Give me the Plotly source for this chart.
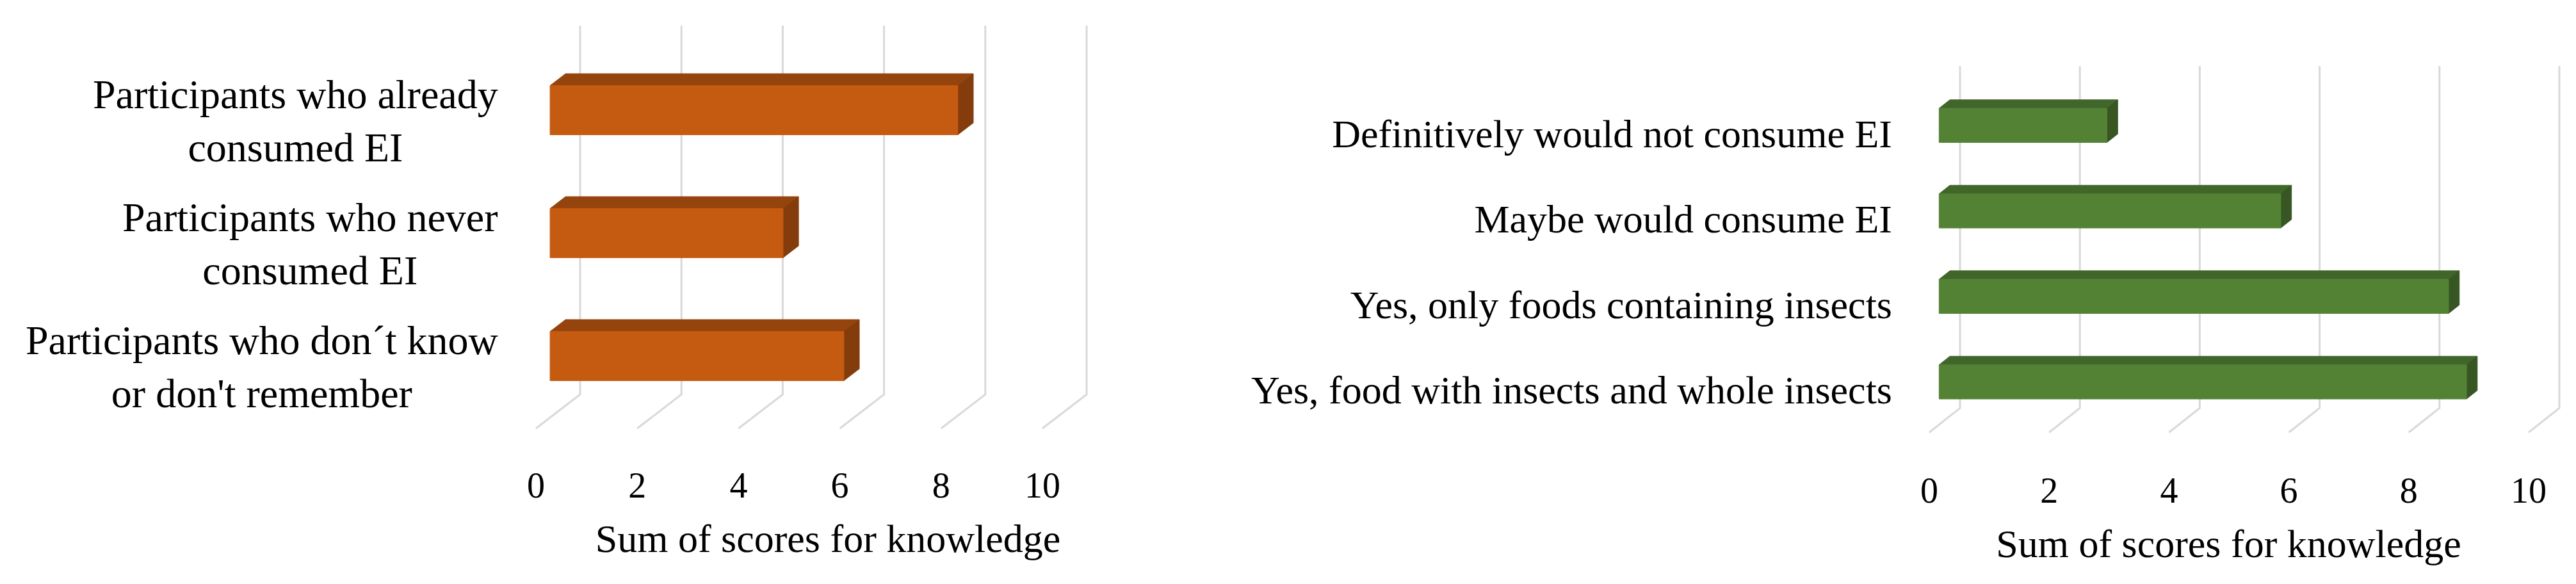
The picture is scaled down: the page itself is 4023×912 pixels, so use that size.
import plotly.graph_objects as go

# ---------------- data ----------------
left_categories = [
    "Participants who already<br>consumed EI",
    "Participants who never<br>consumed EI",
    "Participants who don´t know<br>or don't remember",
]
left_values = [8.05, 4.6, 5.8]

right_categories = [
    "Definitively would not consume EI",
    "Maybe would consume EI",
    "Yes, only foods containing insects",
    "Yes, food with insects and whole insects",
]
right_values = [2.8, 5.7, 8.5, 8.8]

x_ticks = [0, 2, 4, 6, 8, 10]
axis_title = "Sum of scores for knowledge"

# ---------------- styling / geometry ----------------
W, H = 4023, 912
FONT = "Liberation Serif"
GRID = "#D9D9D9"

panels = [
    dict(cats=left_categories, vals=left_values,
         front="#C55A11", top="#96440E", side="#843C0C",
         x0px=829, sx=79.1, y0px=181, sy=192.0, Dx=69, Dy=53,
         dom_x=(790, 1780), dom_y=(20, 712), cat_font=64, standoff=18,
         label_right=772, centered_labels=True),
    dict(cats=right_categories, vals=right_values,
         front="#548235", top="#41662A", side="#375623",
         x0px=3005, sx=93.6, y0px=200, sy=133.5, Dx=48, Dy=38,
         dom_x=(2950, 3995), dom_y=(20, 720), cat_font=62, standoff=2,
         label_right=2949, centered_labels=False),
]

F1, F2 = 0.32, 0.67   # depth fraction of bar front / back face
BAR_H = 0.40          # bar thickness in category units

fig = go.Figure()
annotations = []

for k, p in enumerate(panels):
    xa = "x" if k == 0 else "x2"
    ya = "y" if k == 0 else "y2"
    n = len(p["cats"])
    dX = p["Dx"] / p["sx"]          # depth in value units
    dY = -p["Dy"] / p["sy"]         # depth in category units (up)

    # gridlines: back wall vertical + floor diagonal
    for t in x_ticks:
        fig.add_trace(go.Scatter(
            x=[t + dX, t + dX, t],
            y=[-0.5 + dY, n - 0.5 + dY, n - 0.5],
            mode="lines", line=dict(color=GRID, width=3),
            xaxis=xa, yaxis=ya, showlegend=False, hoverinfo="skip"))

    # 3D bars
    for i, v in enumerate(p["vals"]):
        fx0, fx1 = F1 * dX, F1 * dX + v
        bx0, bx1 = F2 * dX, F2 * dX + v
        fyt, fyb = i + F1 * dY - BAR_H / 2, i + F1 * dY + BAR_H / 2
        byt, byb = i + F2 * dY - BAR_H / 2, i + F2 * dY + BAR_H / 2
        # top face
        fig.add_trace(go.Scatter(
            x=[fx0, fx1, bx1, bx0, fx0], y=[fyt, fyt, byt, byt, fyt],
            fill="toself", fillcolor=p["top"], mode="lines",
            line=dict(color=p["top"], width=1),
            xaxis=xa, yaxis=ya, showlegend=False, hoverinfo="skip"))
        # side face
        fig.add_trace(go.Scatter(
            x=[fx1, bx1, bx1, fx1, fx1], y=[fyt, byt, byb, fyb, fyt],
            fill="toself", fillcolor=p["side"], mode="lines",
            line=dict(color=p["side"], width=1),
            xaxis=xa, yaxis=ya, showlegend=False, hoverinfo="skip"))
        # front face
        fig.add_trace(go.Scatter(
            x=[fx0, fx1, fx1, fx0, fx0], y=[fyt, fyt, fyb, fyb, fyt],
            fill="toself", fillcolor=p["front"], mode="lines",
            line=dict(color=p["front"], width=1),
            xaxis=xa, yaxis=ya, showlegend=False,
            hovertext=f"{p['cats'][i]}: {v}", hoverinfo="text"))

    # category labels drawn as centred multi-line text blocks (left panel)
    if p["centered_labels"]:
        for i, c in enumerate(p["cats"]):
            annotations.append(dict(
                text=c, xref="paper", yref=ya, x=p["label_right"] / W, y=i,
                xanchor="right", yanchor="middle", align="center",
                showarrow=False,
                font=dict(family=FONT, size=p["cat_font"], color="#000000")))

    # axes
    dx0, dx1 = p["dom_x"]
    dy0, dy1 = p["dom_y"]
    xaxis = dict(
        domain=[dx0 / W, dx1 / W],
        range=[(dx0 - p["x0px"]) / p["sx"], (dx1 - p["x0px"]) / p["sx"]],
        tickvals=x_ticks, ticktext=[str(t) for t in x_ticks],
        tickfont=dict(family=FONT, size=56, color="#000000"),
        showgrid=False, zeroline=False, showline=False, ticks="",
        title=dict(text=axis_title, font=dict(family=FONT, size=62, color="#000000"),
                   standoff=30),
        anchor=ya, fixedrange=True)
    yaxis = dict(
        domain=[1 - dy1 / H, 1 - dy0 / H],
        range=[(dy1 - p["y0px"]) / p["sy"], (dy0 - p["y0px"]) / p["sy"]],
        tickvals=list(range(n)), ticktext=p["cats"],
        showticklabels=not p["centered_labels"],
        tickfont=dict(family=FONT, size=p["cat_font"], color="#000000"),
        showgrid=False, zeroline=False, showline=False, ticks="",
        ticklabelstandoff=p["standoff"],
        anchor=xa, fixedrange=True)
    if k == 0:
        fig.update_layout(xaxis=xaxis, yaxis=yaxis)
    else:
        fig.update_layout(xaxis2=xaxis, yaxis2=yaxis)

fig.update_layout(
    width=W, height=H,
    margin=dict(l=0, r=0, t=0, b=0),
    paper_bgcolor="white", plot_bgcolor="white",
    font=dict(family=FONT, color="#000000"),
    showlegend=False,
    annotations=annotations,
)

fig.write_html("out.html")
